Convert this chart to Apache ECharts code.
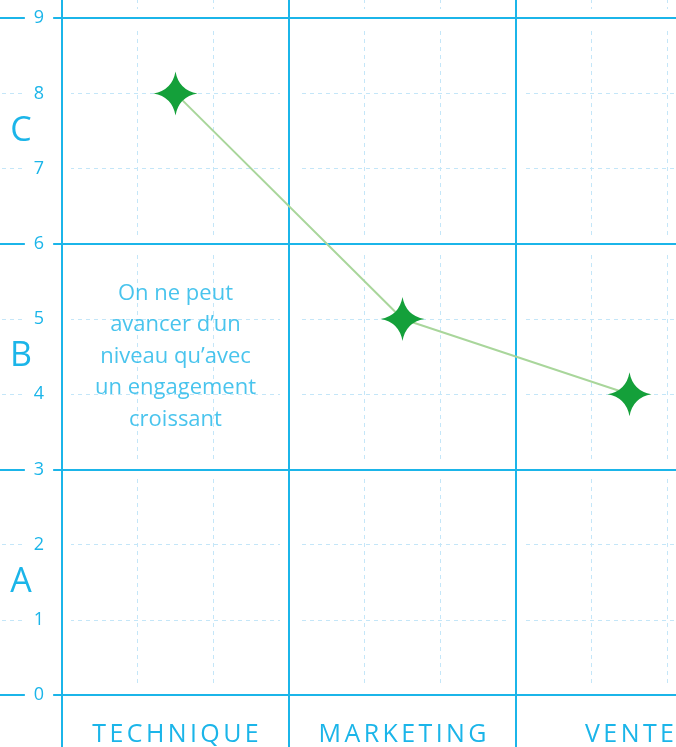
<!DOCTYPE html>
<html lang="fr">
<head>
    <meta charset="UTF-8">
    <title>Niveaux</title>
    <style>
        html, body { margin: 0; padding: 0; background: #fff; overflow: hidden; }
        /* le graphique deborde de la fenetre en haut et a droite */
        #chart { position: absolute; left: 0; top: -60px; width: 800px; height: 807px; }
    </style>
</head>
<body>
    <div id="chart"></div>
    <script src="https://cdn.jsdelivr.net/npm/echarts@6/dist/echarts.min.js"></script>
    <script>
        var categories = ['TECHNIQUE', 'MARKETING', 'VENTE'];
        var values = [8, 5, 4];
        var bandLetters = { '1.5': 'A', '4.5': 'B', '7.5': 'C' };
        var noteText = 'On ne peut\navancer d\u2019un\nniveau qu\u2019avec\nun engagement\ncroissant';
        var notePos = ['TECHNIQUE', 4.5];

        var blue = '#1bb5e9';
        var pale = '#c4e6f8';
        var font = 'Open Sans';

        // quatre branches, cotes concaves
        var star = 'path://M0,-100 Q15,-15 100,0 Q15,15 0,100 Q-15,15 -100,0 Q-15,-15 0,-100 Z';

        function spaced(word) {
            return word.split('').map(function (c) { return '{s|' + c + '}'; }).join('');
        }

        var chart = echarts.init(document.getElementById('chart'));
        var option = {
            animation: false,
            backgroundColor: '#fff',
            grid: { left: 62, top: 0, width: 681, height: 755, containLabel: false },
            xAxis: [{
                type: 'category', data: categories, position: 'bottom', z: 3,
                axisLine: { show: false },
                axisTick: { show: true, interval: 0, length: 60, lineStyle: { color: blue, width: 2 } },
                axisLabel: {
                    interval: 0, hideOverlap: false, margin: 27, formatter: spaced,
                    rich: { s: { color: blue, fontSize: 25, fontFamily: font, padding: [0, 1.7] } }
                },
                splitLine: { show: true, interval: 0, lineStyle: { color: blue, width: 2 } }
            }, {
                // halo blanc autour des traits pleins
                type: 'category', data: categories, position: 'bottom', z: 2,
                axisLine: { show: false }, axisTick: { show: false }, axisLabel: { show: false },
                splitLine: { show: true, interval: 0, lineStyle: { color: '#fff', width: 18 } }
            }, {
                type: 'value', min: 0, max: 9, interval: 1, position: 'bottom', z: 0,
                axisLine: { show: false }, axisTick: { show: false }, axisLabel: { show: false },
                splitLine: { show: true, lineStyle: { color: pale, width: 1, type: [4, 4] } }
            }],
            yAxis: [{
                type: 'value', min: 0, max: 10, interval: 1, position: 'left', z: 0,
                axisLine: { show: false },
                axisTick: { show: true, length: 62, lineStyle: { color: pale, width: 1, type: [4, 4] } },
                axisLabel: { show: false },
                splitLine: { show: true, lineStyle: { color: pale, width: 1, type: [4, 4] } }
            }, {
                type: 'value', min: 0, max: 10, interval: 3, position: 'left', z: 2,
                axisLine: { show: true, lineStyle: { color: '#fff', width: 18 } },
                axisTick: { show: false }, axisLabel: { show: false },
                splitLine: { show: true, lineStyle: { color: '#fff', width: 18 } }
            }, {
                type: 'value', min: 0, max: 10, interval: 3, position: 'left', z: 3,
                axisLine: { show: true, lineStyle: { color: blue, width: 2 } },
                axisTick: { show: true, length: 62, lineStyle: { color: blue, width: 2 } },
                axisLabel: { show: false },
                splitLine: { show: true, lineStyle: { color: blue, width: 2 } }
            }, {
                type: 'value', min: 0, max: 10, interval: 1, position: 'left', z: 5,
                axisLine: { show: false }, axisTick: { show: false }, splitLine: { show: false },
                axisLabel: {
                    color: blue, fontSize: 18, fontFamily: font, align: 'center', margin: 23,
                    backgroundColor: '#fff', padding: [3, 9],
                    formatter: function (v) { return v > 9 ? '' : String(v); }
                }
            }, {
                type: 'value', min: 0, max: 10, interval: 1.5, position: 'left', z: 5,
                axisLine: { show: false }, axisTick: { show: false }, splitLine: { show: false },
                axisLabel: {
                    color: blue, fontSize: 34, fontFamily: font, align: 'center', margin: 41,
                    formatter: function (v) { return bandLetters[String(v)] || ''; }
                }
            }],
            series: [{
                type: 'line', xAxisIndex: 0, yAxisIndex: 0, z: 10,
                data: values,
                symbol: star, symbolSize: 44,
                itemStyle: { color: '#14a03a' },
                lineStyle: { color: '#a9d69b', width: 2 }
            }, {
                type: 'scatter', xAxisIndex: 0, yAxisIndex: 0, z: 6,
                data: [notePos], symbolSize: 1,
                itemStyle: { color: 'rgba(0,0,0,0)' },
                label: {
                    show: true, position: 'inside', formatter: noteText,
                    color: blue, fontSize: 22, fontFamily: font, lineHeight: 31.5, align: 'center'
                }
            }]
        };
        chart.setOption(option);
    </script>
</body>
</html>
